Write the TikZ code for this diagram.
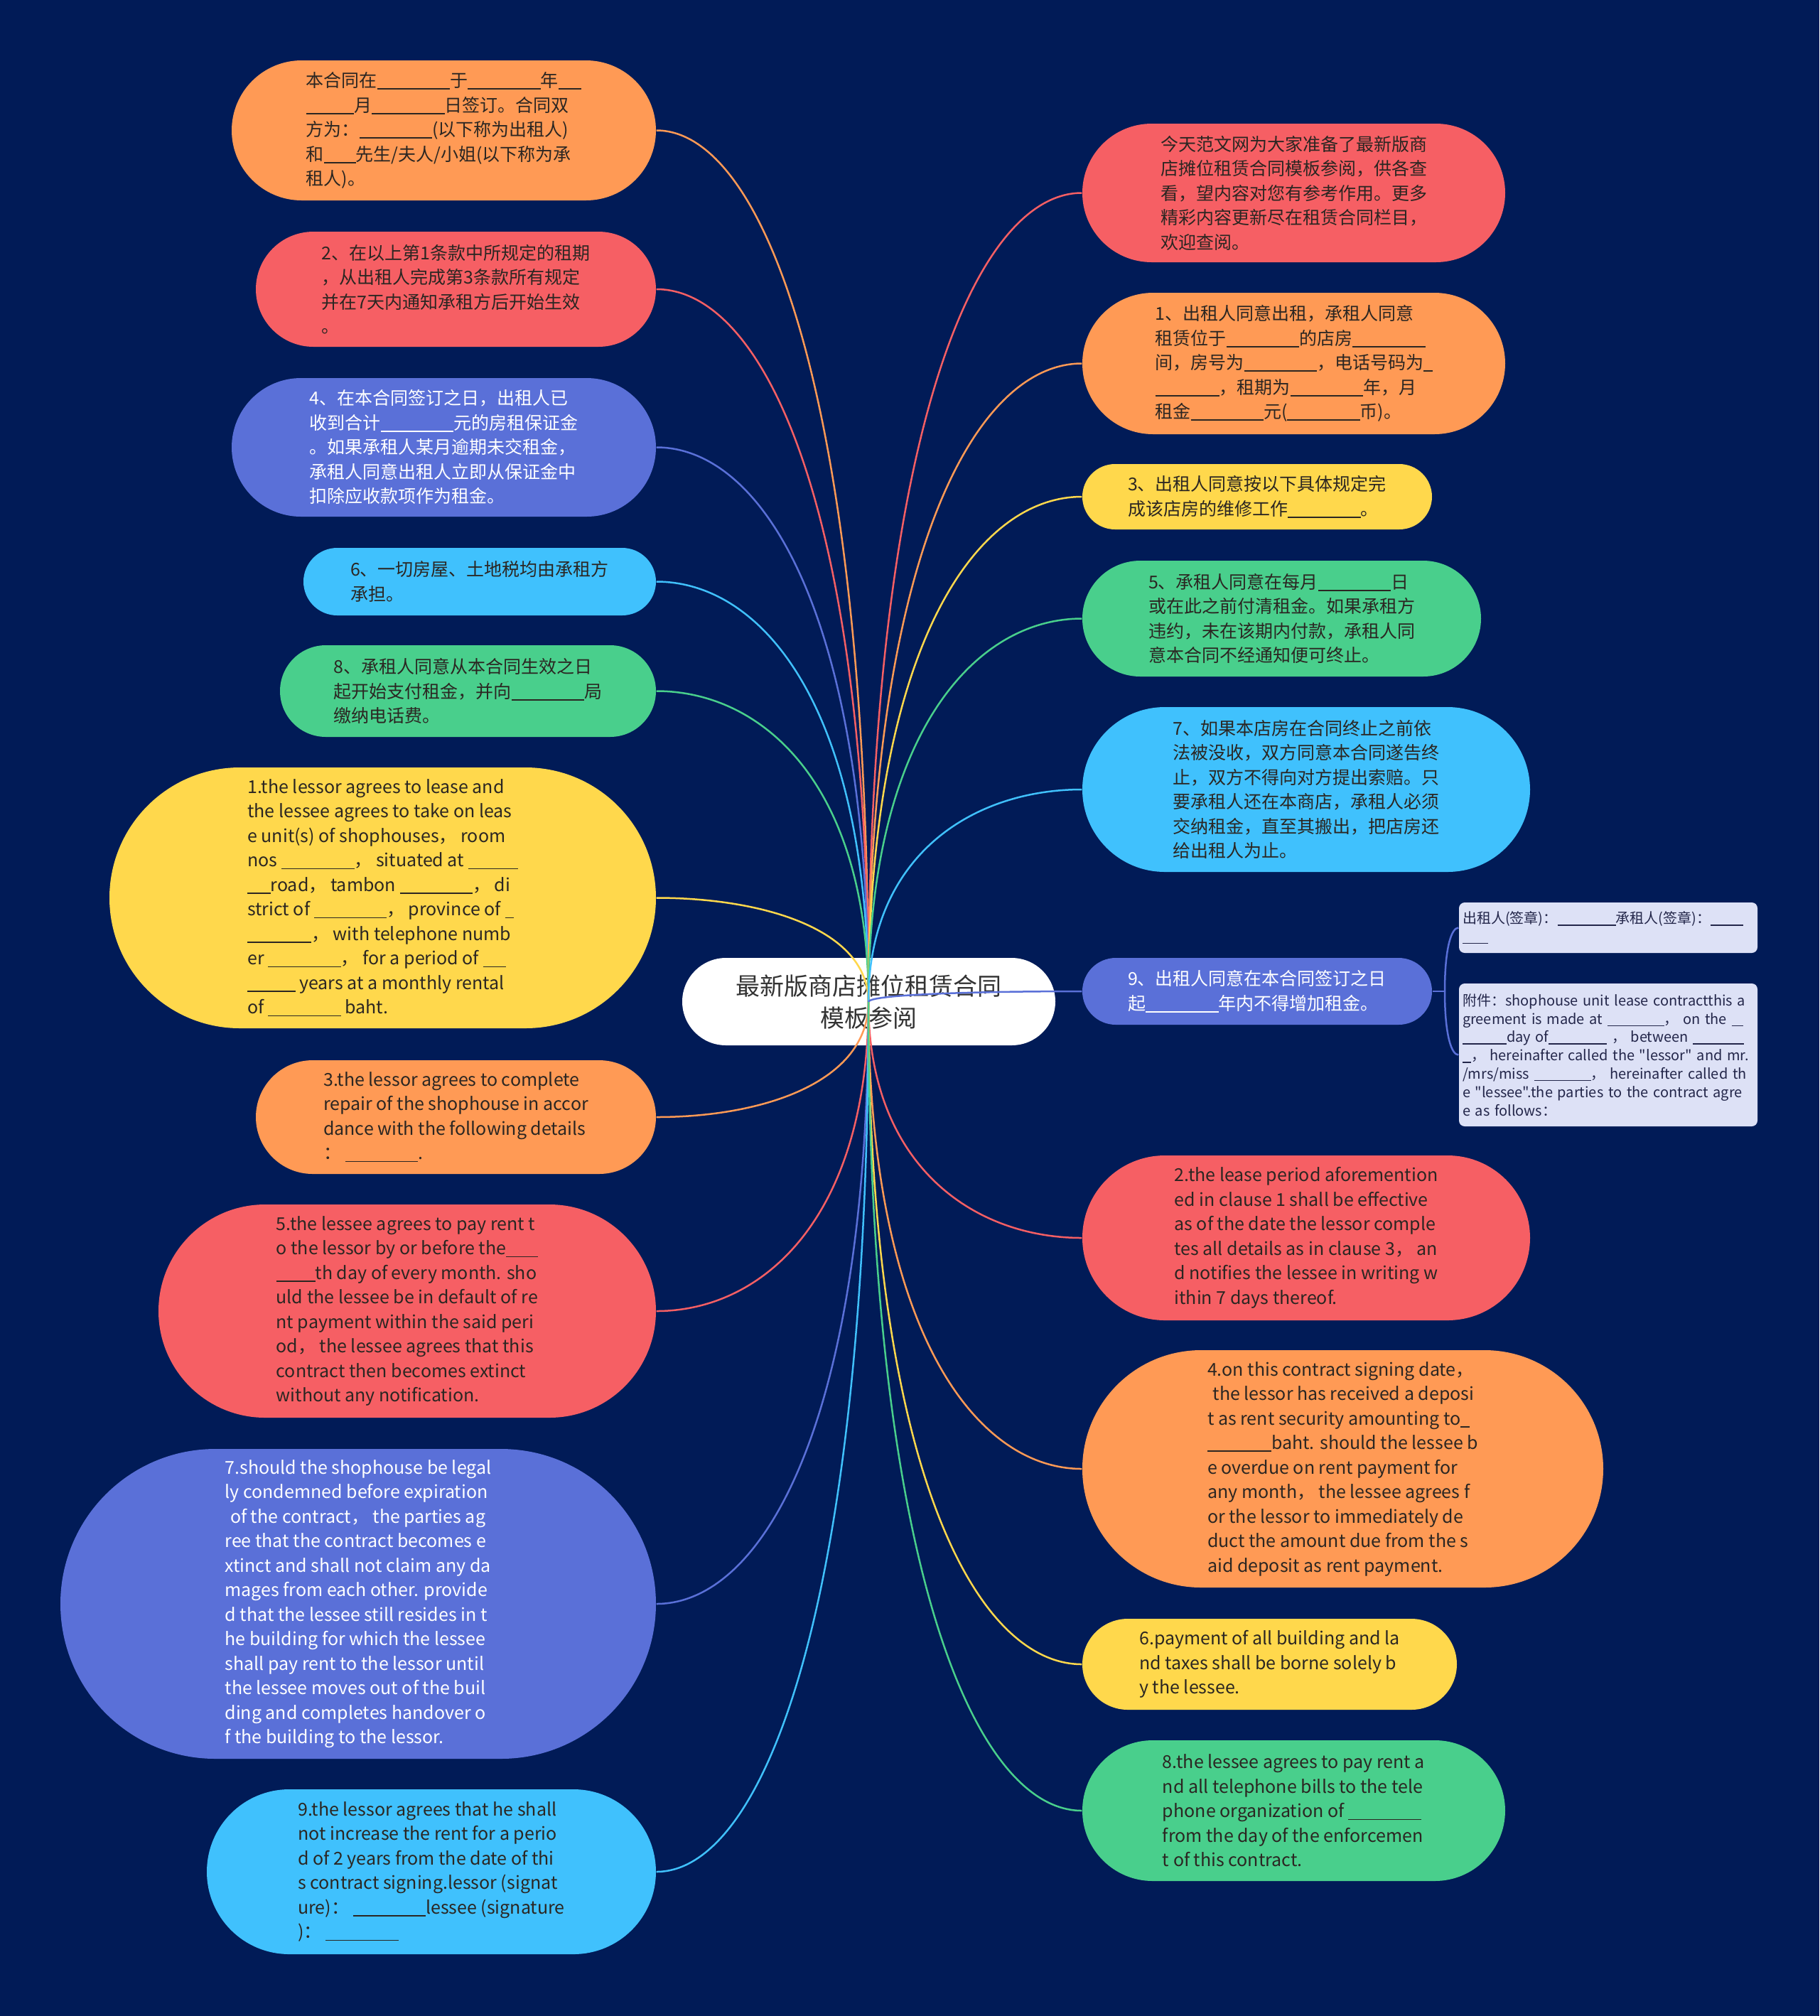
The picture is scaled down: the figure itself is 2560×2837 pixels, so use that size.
\documentclass[tikz,border=0pt]{standalone}
\usepackage{fontspec}
\setmainfont{Noto Sans CJK SC}[Ligatures=TeXOff]
\usetikzlibrary{calc}
\definecolor{bg}{HTML}{011B57}
\definecolor{cOr}{HTML}{FF9A55}
\definecolor{cRd}{HTML}{F65F64}
\definecolor{cPu}{HTML}{5A70D8}
\definecolor{cCy}{HTML}{40C1FD}
\definecolor{cGn}{HTML}{49CF8C}
\definecolor{cYe}{HTML}{FFD84C}
\definecolor{cSub}{HTML}{DDE1F6}
\definecolor{cTx}{HTML}{2B2622}
\definecolor{cSubTx}{HTML}{23264A}
\definecolor{cCen}{HTML}{333333}
\newcommand{\bk}[1]{\rule[-0.14em]{#1em}{0.07em}}
\newcommand{\fsN}{\fontsize{2.5mm}{3.45mm}\selectfont}
\newcommand{\fsC}{\fontsize{3.4mm}{4.5mm}\selectfont}
\newcommand{\fsS}{\fontsize{2.0mm}{2.58mm}\selectfont}
\newcommand{\mmlink}[2]{\draw[conn,#2] (hub) .. controls ($(hub)!0.7!(hub|-#1)$) and ($(#1)!0.5!(#1-|hub)$) .. (#1);}
\begin{document}
\begin{tikzpicture}[x=0.1mm,y=-0.1mm,
  pill/.style n args={3}{rectangle, rounded corners=#3, minimum width=#1, minimum height=#2, inner sep=0pt, align=left, font=\fsN, text=cTx},
  subbox/.style={rectangle, rounded corners=0.8mm, fill=cSub, text=cSubTx, font=\fsS, align=left, text width=41mm, inner xsep=0.5mm, inner ysep=0pt, minimum height=#1},
  conn/.style={line width=0.25mm}]
\fill[bg] (0,0) rectangle (2560,2837);
\useasboundingbox (0,0) rectangle (2560,2837);

% ---------- left side ----------
\node[pill={59.7mm}{19.7mm}{9.85mm}, fill=cOr] (L1) at (624.5,183.5) {本合同在\bk{4.1}于\bk{4.1}年\bk{1.3}\\\bk{2.7}月\bk{4.1}日签订。合同双\\方为：\bk{4.1}(以下称为出租人)\\和\bk{1.8}先生/夫人/小姐(以下称为承\\租人)。};
\node[pill={56.3mm}{16.2mm}{8.1mm}, fill=cRd] (L2) at (641.5,407) {2、在以上第1条款中所规定的租期\\，从出租人完成第3条款所有规定\\并在7天内通知承租方后开始生效\\。};
\node[pill={59.7mm}{19.5mm}{9.75mm}, fill=cPu, text=white] (L3) at (624.5,629.5) {4、在本合同签订之日，出租人已\\收到合计\bk{4.1}元的房租保证金\\。如果承租人某月逾期未交租金，\\承租人同意出租人立即从保证金中\\扣除应收款项作为租金。};
\node[pill={49.6mm}{9.5mm}{4.75mm}, fill=cCy] (L4) at (675,818.5) {6、一切房屋、土地税均由承租方\\承担。};
\node[pill={52.9mm}{12.9mm}{6.45mm}, fill=cGn] (L5) at (658.5,972.5) {8、承租人同意从本合同生效之日\\起开始支付租金，并向\bk{4.1}局\\缴纳电话费。};
\node[pill={76.9mm}{36.7mm}{18.35mm}, fill=cYe] (L6) at (538.5,1263.5) {1.the lessor agrees to lease and\\the lessee agrees to take on leas\\e unit(s) of shophouses， room\\nos \bk{4.1}， situated at \bk{2.8}\\\bk{1.3}road， tambon \bk{4.1}， di\\strict of \bk{4.1}， province of \bk{0.5}\\\bk{3.6}， with telephone numb\\er \bk{4.1}， for a period of \bk{1.3}\\\bk{2.7} years at a monthly rental\\of \bk{4.1} baht.};
\node[pill={56.3mm}{16mm}{8mm}, fill=cOr] (L7) at (641.5,1572) {3.the lessor agrees to complete\\repair of the shophouse in accor\\dance with the following details\\： \bk{4.1}.};
\node[pill={70mm}{30mm}{15mm}, fill=cRd] (L8) at (573,1845) {5.the lessee agrees to pay rent t\\o the lessor by or before the\bk{1.8}\\\bk{2.2}th day of every month. sho\\uld the lessee be in default of re\\nt payment within the said peri\\od， the lessee agrees that this\\contract then becomes extinct\\without any notification.};
\node[pill={83.8mm}{43.6mm}{21.8mm}, fill=cPu, text=white] (L9) at (504,2257) {7.should the shophouse be legal\\ly condemned before expiration\\\hspace*{0.3em}of the contract， the parties ag\\ree that the contract becomes e\\xtinct and shall not claim any da\\mages from each other. provide\\d that the lessee still resides in t\\he building for which the lessee\\shall pay rent to the lessor until\\the lessee moves out of the buil\\ding and completes handover o\\f the building to the lessor.};
\node[pill={63.2mm}{23.2mm}{11.6mm}, fill=cCy] (L10) at (607,2634) {9.the lessor agrees that he shall\\not increase the rent for a perio\\d of 2 years from the date of thi\\s contract signing.lessor (signat\\ure)： \bk{4.1}lessee (signature\\)： \bk{4.1}};

% ---------- right side ----------
\node[pill={59.5mm}{19.5mm}{9.75mm}, fill=cRd] (R1) at (1820.5,271.5) {今天范文网为大家准备了最新版商\\店摊位租赁合同模板参阅，供各查\\看，望内容对您有参考作用。更多\\精彩内容更新尽在租赁合同栏目，\\欢迎查阅。};
\node[pill={59.5mm}{19.9mm}{9.95mm}, fill=cOr] (R2) at (1820.5,511.5) {1、出租人同意出租，承租人同意\\租赁位于\bk{4.1}的店房\bk{4.1}\\间，房号为\bk{4.1}，电话号码为\bk{0.5}\\\bk{3.6}，租期为\bk{4.1}年，月\\租金\bk{4.1}元(\bk{4.1}币)。};
\node[pill={49.2mm}{9.2mm}{4.6mm}, fill=cYe] (R3) at (1769,699) {3、出租人同意按以下具体规定完\\成该店房的维修工作\bk{4.1}。};
\node[pill={56.1mm}{16.3mm}{8.15mm}, fill=cGn] (R4) at (1803.5,870.5) {5、承租人同意在每月\bk{4.1}日\\或在此之前付清租金。如果承租方\\违约，未在该期内付款，承租人同\\意本合同不经通知便可终止。};
\node[pill={63mm}{23.2mm}{11.6mm}, fill=cCy] (R5) at (1838,1111) {7、如果本店房在合同终止之前依\\法被没收，双方同意本合同遂告终\\止，双方不得向对方提出索赔。只\\要承租人还在本商店，承租人必须\\交纳租金，直至其搬出，把店房还\\给出租人为止。};
\node[pill={49.2mm}{9.4mm}{4.7mm}, fill=cPu, text=white] (R6) at (1769,1395) {9、出租人同意在本合同签订之日\\起\bk{4.1}年内不得增加租金。};
\node[pill={63mm}{23.2mm}{11.6mm}, fill=cRd] (R7) at (1838,1742) {2.the lease period aforemention\\ed in clause 1 shall be effective\\as of the date the lessor comple\\tes all details as in clause 3， an\\d notifies the lessee in writing w\\ithin 7 days thereof.};
\node[pill={73.3mm}{33.4mm}{16.7mm}, fill=cOr] (R8) at (1889.5,2067) {4.on this contract signing date，\\\hspace*{0.3em}the lessor has received a deposi\\t as rent security amounting to\bk{0.5}\\\bk{3.6}baht. should the lessee b\\e overdue on rent payment for\\any month， the lessee agrees f\\or the lessor to immediately de\\duct the amount due from the s\\aid deposit as rent payment.};
\node[pill={52.7mm}{12.8mm}{6.4mm}, fill=cYe] (R9) at (1786.5,2342) {6.payment of all building and la\\nd taxes shall be borne solely b\\y the lessee.};
\node[pill={59.5mm}{19.8mm}{9.9mm}, fill=cGn] (R10) at (1820.5,2548) {8.the lessee agrees to pay rent a\\nd all telephone bills to the tele\\phone organization of \bk{4.1}\\from the day of the enforcemen\\t of this contract.};

% ---------- sub nodes ----------
\node[subbox=7.1mm] (S1) at (2263,1305.5) {\mbox{出租人(签章)：\bk{4.1}承租人(签章)：\bk{2.3}}\\\bk{1.8}};
\node[subbox=20.1mm] (S2) at (2263,1484.5) {\mbox{附件：shophouse unit lease contractthis a}\\\mbox{greement is made at \bk{4.0}， on the \bk{0.8}}\\\mbox{\bk{3.1}day of\bk{4.1} ， between \bk{3.6}}\\\mbox{\bk{0.6}， hereinafter called the "lessor" and mr.}\\\mbox{/mrs/miss \bk{4.0}， hereinafter called th}\\\mbox{e "lessee".the parties to the contract agre}\\\mbox{e as follows：}};

% ---------- centre ----------
\node[rectangle, rounded corners=6.15mm, fill=white, minimum width=52.5mm, minimum height=12.3mm, inner sep=0pt, font=\fsC, text=cCen, align=center] (C) at (1222.5,1409.5) {最新版商店摊位租赁合同\\模板参阅};
\coordinate (hub) at (1222,1410);

% ---------- connectors ----------
\mmlink{L1.east}{cOr}
\mmlink{L2.east}{cRd}
\mmlink{L3.east}{cPu}
\mmlink{L4.east}{cCy}
\mmlink{L5.east}{cGn}
\mmlink{L6.east}{cYe}
\mmlink{L7.east}{cOr}
\mmlink{L8.east}{cRd}
\mmlink{L9.east}{cPu}
\mmlink{L10.east}{cCy}
\mmlink{R1.west}{cRd}
\mmlink{R2.west}{cOr}
\mmlink{R3.west}{cYe}
\mmlink{R4.west}{cGn}
\mmlink{R5.west}{cCy}
\mmlink{R6.west}{cPu}
\mmlink{R7.west}{cRd}
\mmlink{R8.west}{cOr}
\mmlink{R9.west}{cYe}
\mmlink{R10.west}{cGn}

\coordinate (jn) at (2033,1395);
\draw[conn,cPu] (R6.east) -- (jn);
\draw[conn,cPu] (jn) .. controls ($(jn)!0.7!(jn|-S1.west)$) and ($(S1.west)!0.5!(S1.west-|jn)$) .. (S1.west);
\draw[conn,cPu] (jn) .. controls ($(jn)!0.7!(jn|-S2.west)$) and ($(S2.west)!0.5!(S2.west-|jn)$) .. (S2.west);
\end{tikzpicture}
\end{document}
